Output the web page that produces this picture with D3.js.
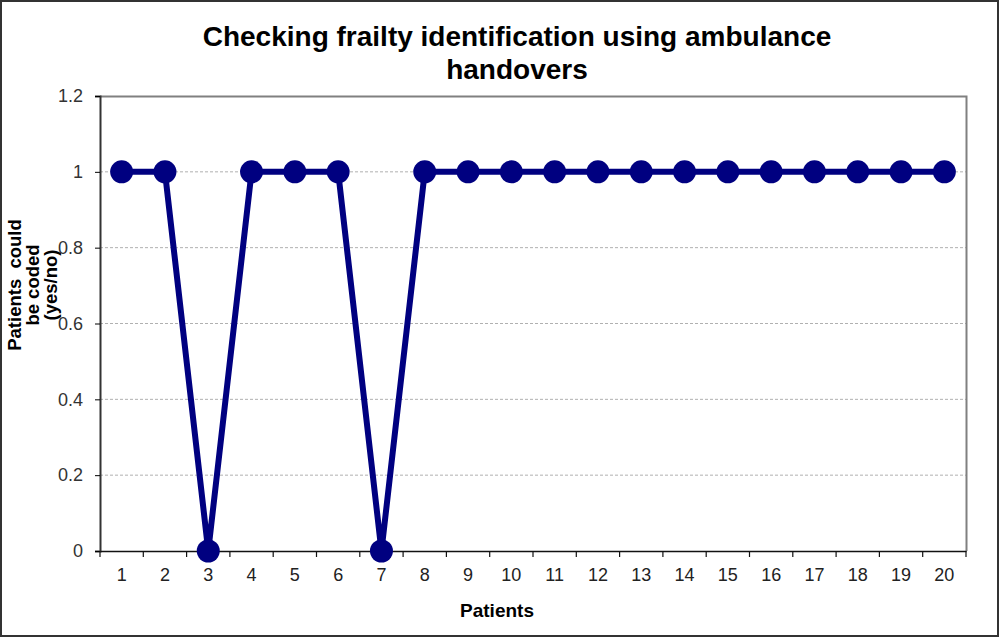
<!DOCTYPE html>
<html><head><meta charset="utf-8">
<script src="https://cdn.jsdelivr.net/npm/d3@7"></script>
<style>body{margin:0;background:#fff}svg{display:block}</style>
</head><body>
<svg id="c" width="1000" height="638"></svg>
<script>
const categories = ["1","2","3","4","5","6","7","8","9","10","11","12","13","14","15","16","17","18","19","20"];
const values = [1,1,0,1,1,1,0,1,1,1,1,1,1,1,1,1,1,1,1,1];
const yTicks = [0,0.2,0.4,0.6,0.8,1,1.2];
const titleLines = ["Checking frailty identification using ambulance","handovers"];
const yTitleLines = ["Patients  could","be coded","(yes/no)"];
const xTitle = "Patients";

const svg = d3.select("#c");
const font = "Liberation Sans, Arial, sans-serif";
const L=100,R=966,T=96,B=551;
svg.append("rect").attr("x",1).attr("y",1).attr("width",997).attr("height",635)
  .attr("fill","#fff").attr("stroke","#333").attr("stroke-width",2);

const x = d3.scaleBand().domain(categories).range([L,R]);
const y = d3.scaleLinear().domain([0,1.2]).range([B,T]);

// gridlines
svg.append("g").selectAll("line").data(yTicks.filter(d=>d>0&&d<1.2)).join("line")
  .attr("x1",L).attr("x2",R).attr("y1",d=>y(d)).attr("y2",d=>y(d))
  .attr("stroke","#b0b0b0").attr("stroke-width",1).attr("stroke-dasharray","3,2");
// top/right border
svg.append("path").attr("d",`M${L},${T+0.5}H${R+0.5}V${B}`).attr("fill","none")
  .attr("stroke","#808080").attr("stroke-width",2);

const yAxis = svg.append("g").attr("transform",`translate(${L},0)`)
  .call(d3.axisLeft(y).tickValues(yTicks).tickFormat(d=>String(d)).tickSize(5).tickPadding(12));
yAxis.select(".domain").attr("stroke","#333").attr("stroke-width",2);
yAxis.selectAll("text").attr("font-family",font).attr("font-size",18).attr("fill","#333");

const xAxis = svg.append("g").attr("transform",`translate(0,${B})`)
  .call(d3.axisBottom(x).tickSize(0).tickPadding(17));
xAxis.select(".domain").attr("stroke","#111").attr("stroke-width",1.5);
xAxis.selectAll("text").attr("font-family",font).attr("font-size",18).attr("fill","#222");
// boundary ticks
const bounds = categories.map(c=>x(c)).concat([R]);
svg.append("g").selectAll("line").data(bounds).join("line")
  .attr("x1",d=>d).attr("x2",d=>d).attr("y1",B).attr("y2",B+6).attr("stroke","#111").attr("stroke-width",1.2);

const cx = c => x(c)+x.bandwidth()/2;
const line = d3.line().x((d,i)=>cx(categories[i])).y(d=>y(d));
svg.append("path").datum(values).attr("d",line).attr("fill","none")
  .attr("stroke","#000080").attr("stroke-width",6).attr("stroke-linejoin","round");
svg.append("g").selectAll("circle").data(values).join("circle")
  .attr("cx",(d,i)=>cx(categories[i])).attr("cy",d=>y(d)).attr("r",11.5).attr("fill","#000080");

// title
svg.append("g").selectAll("text").data(titleLines).join("text")
  .attr("x",517).attr("y",(d,i)=>46+i*33).attr("text-anchor","middle")
  .attr("font-family",font).attr("font-weight","bold").attr("font-size",28).attr("fill","#000").text(d=>d);
// x title
svg.append("text").attr("x",497).attr("y",617).attr("text-anchor","middle")
  .attr("font-family",font).attr("font-weight","bold").attr("font-size",19).attr("fill","#000").text(xTitle);
// y title
svg.append("g").attr("transform","translate(0,285) rotate(-90)").selectAll("text").data(yTitleLines).join("text")
  .attr("x",0).attr("y",(d,i)=>21+i*18).attr("text-anchor","middle").attr("xml:space","preserve")
  .attr("font-family",font).attr("font-weight","bold").attr("font-size",18.5).attr("fill","#000").text(d=>d);
</script>
</body></html>
